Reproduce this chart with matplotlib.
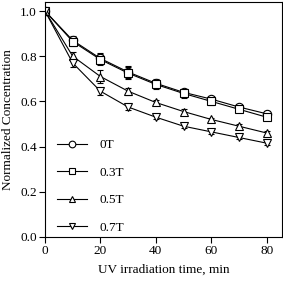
import numpy as np
import matplotlib
matplotlib.use("Agg")
import matplotlib.pyplot as plt

plt.rcParams['font.family'] = ['Liberation Serif', 'DejaVu Serif']
plt.rcParams['font.size'] = 9.5

# irradiation time (min)
time = [0, 10, 20, 30, 40, 50, 60, 70, 80]

# normalized concentration for each magnetic field
c_0T = [1.0, 0.87, 0.79, 0.73, 0.68, 0.64, 0.61, 0.575, 0.545]
c_03T = [1.0, 0.865, 0.785, 0.725, 0.675, 0.635, 0.60, 0.565, 0.53]
c_05T = [1.0, 0.80, 0.71, 0.645, 0.595, 0.555, 0.52, 0.49, 0.46]
c_07T = [1.0, 0.77, 0.645, 0.575, 0.53, 0.49, 0.465, 0.44, 0.415]

# error bars
e_0T = [0.0, 0.02, 0.025, 0.025, 0.02, 0.015, 0.015, 0.012, 0.012]
e_03T = [0.0, 0.02, 0.025, 0.025, 0.02, 0.02, 0.015, 0.012, 0.012]
e_05T = [0.0, 0.02, 0.03, 0.015, 0.01, 0.01, 0.008, 0.008, 0.008]
e_07T = [0.0, 0.02, 0.015, 0.015, 0.008, 0.008, 0.008, 0.008, 0.008]

labels = ['0T', '0.3T', '0.5T', '0.7T']
markers = ['o', 's', '^', 'v']

fig = plt.figure(figsize=(2.83, 2.82), dpi=100)
ax = fig.add_axes([0.159, 0.16, 0.837, 0.833])

for y, e, lab, m in zip([c_0T, c_03T, c_05T, c_07T],
                        [e_0T, e_03T, e_05T, e_07T], labels, markers):
    ax.errorbar(time, y, yerr=e, color='black', lw=0.8, marker=m,
                markersize=6, markerfacecolor='white', markeredgecolor='black',
                markeredgewidth=0.8, capsize=2.5, elinewidth=0.8,
                capthick=0.8, label=lab)

ax.set_xlim(0, 85.5)
ax.set_ylim(0, 1.04)
ax.set_xticks([0, 20, 40, 60, 80])
ax.set_yticks([0.0, 0.2, 0.4, 0.6, 0.8, 1.0])
ax.set_yticklabels(['0.0', '0.2', '0.4', '0.6', '0.8', '1.0'])
ax.tick_params(direction='out', length=4, width=0.8, pad=2, labelsize=9.5)
for s in ax.spines.values():
    s.set_linewidth(0.8)

ax.set_xlabel('UV irradiation time, min', fontsize=9.5, labelpad=5)
ax.set_ylabel('Normalized Concentration', fontsize=9.5, labelpad=4)

handles, labs = ax.get_legend_handles_labels()
handles = [h[0] for h in handles]
ax.legend(handles, labs, loc='lower left', frameon=False, fontsize=9.5,
          handlelength=2.3, labelspacing=1.15, handletextpad=0.9,
          markerscale=0.8, bbox_to_anchor=(0.0, -0.037))

fig.savefig('out.png', dpi=100)
